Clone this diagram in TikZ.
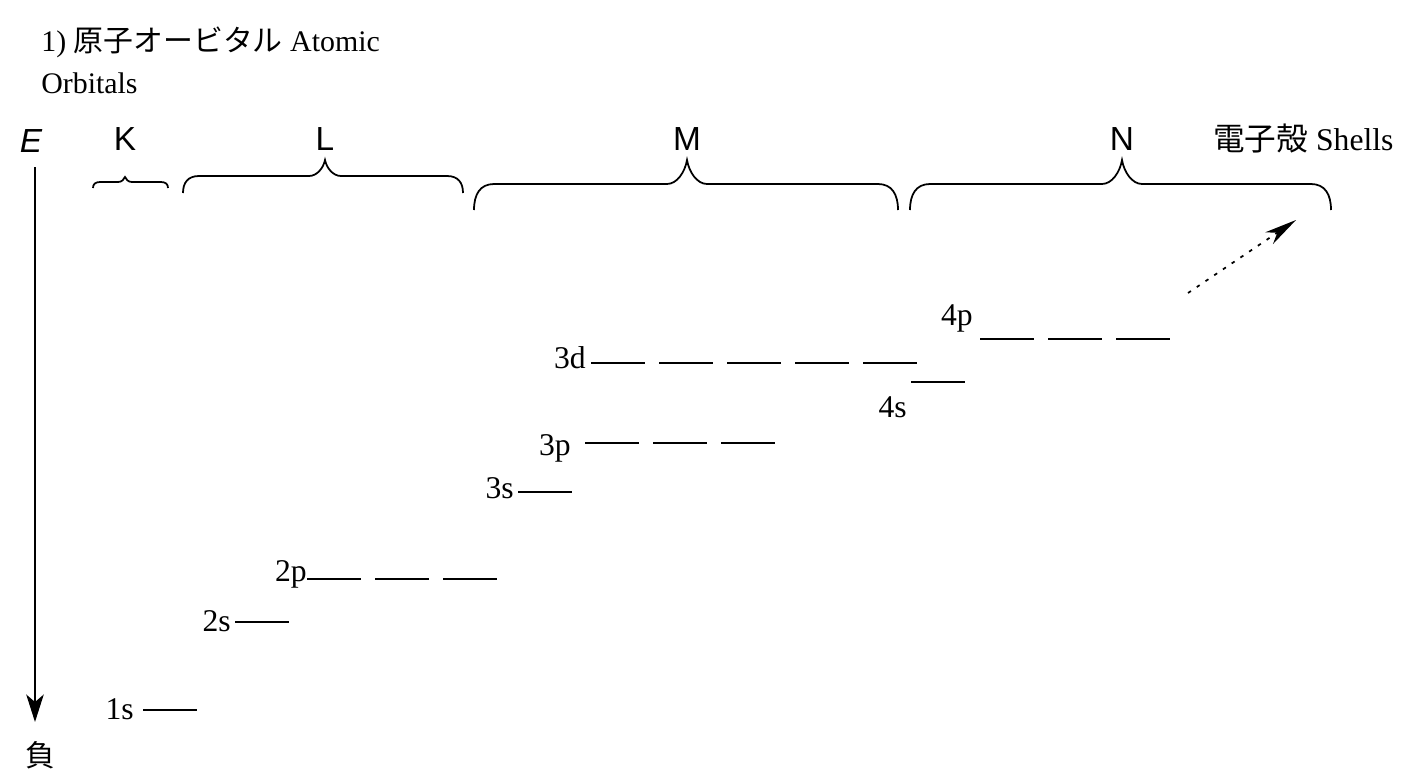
\documentclass[tikz,border=0pt]{standalone}
\usepackage{fontspec}
\setmainfont{Liberation Serif}
\setsansfont{Liberation Sans}
\newfontfamily\jpfont{Noto Sans CJK JP}
\usetikzlibrary{arrows.meta}

\begin{document}
\begin{tikzpicture}[x=0.02cm, y=-0.02cm]
  %
  \tikzset{
    lvl/.style={line width=1pt},
    olabel/.style={anchor=base east, inner sep=0pt, font=\fontsize{18}{21}\selectfont},
    txt/.style={anchor=base west, inner sep=0pt, font=\fontsize{17}{20}\selectfont},
    shname/.style={anchor=base, inner sep=0pt, font=\sffamily\fontsize{19}{22}\selectfont},
    brc/.style={line width=1pt},
  }
  %
  % Layout constants
  \def\lw{54}     % width of one orbital line
  \def\pitch{68}  % pitch of degenerate orbitals
  \def\shy{150}   % baseline of shell letters
  %
  \useasboundingbox (0,0) rectangle (1415,777);
  %
  % === TITLE ===
  \node[txt] (title1) at (41,52) {1) {\jpfont 原子オービタル} Atomic};
  \node[txt] (title2) at (41,93) {Orbitals};
  %
  % === ENERGY AXIS ===
  \node[shname, font=\sffamily\itshape\fontsize{19}{22}\selectfont] (ename) at (31,152) {E};
  \coordinate (etop) at (35,167);
  \coordinate (ebot) at (35,722);
  \draw[line width=1pt, -{Stealth[length=0.55cm, width=0.35cm, inset=0.15cm]}] (etop) -- (ebot);
  \node[inner sep=0pt, font=\jpfont\fontsize{17}{20}\selectfont] (neg) at (40,755) {負};
  %
  % === SHELL BRACES (a/m/b/foot/flat/tip/r/name) ===
  \foreach \a/\m/\b/\ft/\fl/\tp/\r/\nm in {
    93/125/168/188/182/177/7/K,
    183/325/463/193/176/160/16/L,
    474/687/898/210/184/160/20/M,
    910/1122/1331/210/184/160/20/N%
  } {
    \coordinate (tip\nm) at (\m,\tp);
    \draw[brc] (\a,\ft) .. controls (\a,{\ft-0.6*(\ft-\fl)}) and ({\a+0.3*\r},\fl) .. ({\a+\r},\fl)
      -- ({\m-\r},\fl) .. controls ({\m-0.5*\r},\fl) and ({\m-0.1*\r},{\fl-0.5*(\fl-\tp)}) .. (tip\nm)
      .. controls ({\m+0.1*\r},{\fl-0.5*(\fl-\tp)}) and ({\m+0.5*\r},\fl) .. ({\m+\r},\fl)
      -- ({\b-\r},\fl) .. controls ({\b-0.3*\r},\fl) and (\b,{\ft-0.6*(\ft-\fl)}) .. (\b,\ft);
    \node[shname] (sh\nm) at (\m,\shy) {\nm};
  }
  \node[txt, font=\fontsize{18}{21}\selectfont] (shells) at (1213,\shy) {{\jpfont 電子殻} Shells};
  %
  % === ORBITAL LEVELS (name/label x/label y/line x/line y/count) ===
  \foreach \nm/\lx/\ly/\sx/\sy/\n in {
    1s/134/719/143/710/1,
    2s/231/631/235/622/1,
    2p/307/581/307/579/3,
    3s/514/498/518/492/1,
    3p/571/455/585/443/3,
    3d/586/368/591/363/5,
    4s/907/417/911/382/1,
    4p/973/325/980/339/3%
  } {
    \node[olabel] (lab\nm) at (\lx,\ly) {\nm};
    \foreach \i in {1,...,\n}
      \draw[lvl] ({\sx+(\i-1)*\pitch},\sy) -- ++(\lw,0);
  }
  %
  % === DOTTED ARROW (towards higher shells) ===
  \coordinate (dots) at (1188,293);
  \coordinate (dote) at (1296,220);
  \draw[line width=1pt, dash pattern=on 2pt off 4pt,
        -{Stealth[length=0.65cm, width=0.28cm, inset=0.2cm]}] (dots) -- (dote);
  %
\end{tikzpicture}
\end{document}
